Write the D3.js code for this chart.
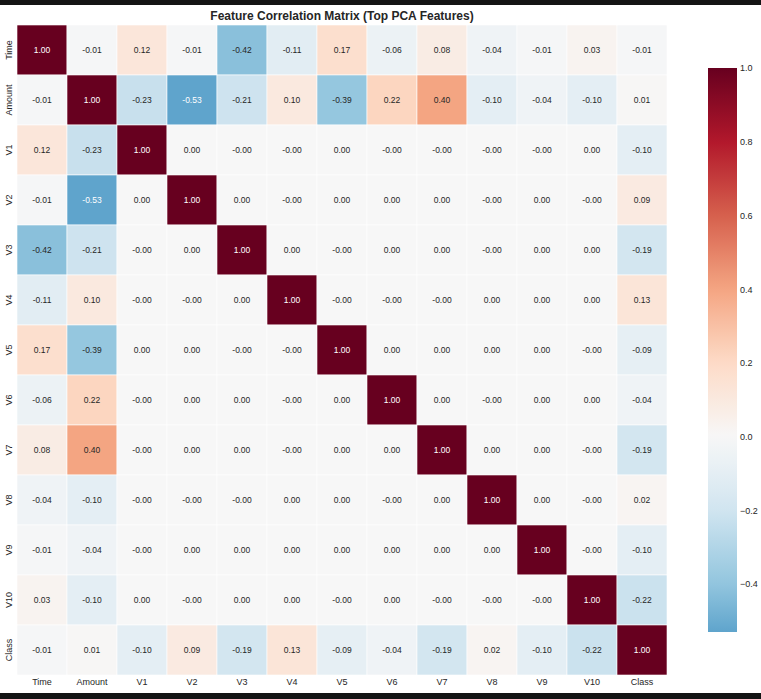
<!DOCTYPE html>
<html>
<head>
<meta charset="utf-8">
<script src="https://cdn.jsdelivr.net/npm/d3@7"></script>
<style>
    html, body { margin: 0; padding: 0; background: #ffffff; }
    svg { display: block; font-family: "Liberation Sans", Arial, sans-serif; }
</style>
</head>
<body>
<svg id="chart" width="761" height="699"></svg>
<script>
var features = ["Time", "Amount", "V1", "V2", "V3", "V4", "V5", "V6", "V7", "V8", "V9", "V10", "Class"];

// tiny signed values are the ones printed as "0.00" / "-0.00"
var row_time   = [1.00, -0.01, 0.12, -0.01, -0.42, -0.11, 0.17, -0.06, 0.08, -0.04, -0.01, 0.03, -0.01];
var row_amount = [-0.01, 1.00, -0.23, -0.53, -0.21, 0.10, -0.39, 0.22, 0.40, -0.10, -0.04, -0.10, 0.01];
var row_v1     = [0.12, -0.23, 1.00, 0.001, -0.001, -0.001, 0.001, -0.001, -0.001, -0.001, -0.001, 0.001, -0.10];
var row_v2     = [-0.01, -0.53, 0.001, 1.00, 0.001, -0.001, 0.001, 0.001, 0.001, -0.001, 0.001, -0.001, 0.09];
var row_v3     = [-0.42, -0.21, -0.001, 0.001, 1.00, 0.001, -0.001, 0.001, 0.001, -0.001, 0.001, 0.001, -0.19];
var row_v4     = [-0.11, 0.10, -0.001, -0.001, 0.001, 1.00, -0.001, -0.001, -0.001, 0.001, 0.001, 0.001, 0.13];
var row_v5     = [0.17, -0.39, 0.001, 0.001, -0.001, -0.001, 1.00, 0.001, 0.001, 0.001, 0.001, -0.001, -0.09];
var row_v6     = [-0.06, 0.22, -0.001, 0.001, 0.001, -0.001, 0.001, 1.00, 0.001, -0.001, 0.001, 0.001, -0.04];
var row_v7     = [0.08, 0.40, -0.001, 0.001, 0.001, -0.001, 0.001, 0.001, 1.00, 0.001, 0.001, -0.001, -0.19];
var row_v8     = [-0.04, -0.10, -0.001, -0.001, -0.001, 0.001, 0.001, -0.001, 0.001, 1.00, 0.001, -0.001, 0.02];
var row_v9     = [-0.01, -0.04, -0.001, 0.001, 0.001, 0.001, 0.001, 0.001, 0.001, 0.001, 1.00, -0.001, -0.10];
var row_v10    = [0.03, -0.10, 0.001, -0.001, 0.001, 0.001, -0.001, 0.001, -0.001, -0.001, -0.001, 1.00, -0.22];
var row_class  = [-0.01, 0.01, -0.10, 0.09, -0.19, 0.13, -0.09, -0.04, -0.19, 0.02, -0.10, -0.22, 1.00];

var colorbar_ticks = [-0.4, -0.2, 0.0, 0.2, 0.4, 0.6, 0.8, 1.0];
var rdbu_colors = ["#67001f", "#b2182b", "#d6604d", "#f4a582", "#fddbc7", "#f7f7f7",
                   "#d1e5f0", "#92c5de", "#4393c3", "#2166ac", "#053061"];

var matrix = [row_time, row_amount, row_v1, row_v2, row_v3, row_v4, row_v5,
              row_v6, row_v7, row_v8, row_v9, row_v10, row_class];

window.onload = function()
{
    var svg = d3.select("#chart");

    // screenshot frame strips
    svg.append("rect").attr("x", 0).attr("y", 0).attr("width", 761).attr("height", 5).attr("fill", "#141414");
    svg.append("rect").attr("x", 0).attr("y", 693).attr("width", 761).attr("height", 6).attr("fill", "#141414");

    var x = d3.scaleBand().domain(features).range([17, 667]);
    var y = d3.scaleBand().domain(features).range([25, 675]);

    // RdBu_r centred on 0, symmetric range like seaborn center=0
    var color = d3.scaleLinear()
        .domain(d3.range(11).map(function(i) { return -1 + i * 0.2; }))
        .range(rdbu_colors.slice().reverse())
        .interpolate(d3.interpolateRgb)
        .clamp(true);

    var cells = [];
    for (var i = 0; i < features.length; i++)
    {
        for (var j = 0; j < features.length; j++)
        {
            cells.push({row: features[i], col: features[j], value: matrix[i][j]});
        }
    }

    svg.append("g").selectAll("rect").data(cells).enter().append("rect").
        attr("x", function(d) { return x(d.col); }).
        attr("y", function(d) { return y(d.row); }).
        attr("width", x.bandwidth()).
        attr("height", y.bandwidth()).
        attr("fill", function(d) { return color(d.value); }).
        attr("stroke", "#ffffff").
        attr("stroke-width", 0.6);

    function luminance(c)
    {
        var rgb = d3.rgb(c);
        var lin = [rgb.r, rgb.g, rgb.b].map(function(v)
        {
            v = v / 255;
            return v <= 0.03928 ? v / 12.92 : Math.pow((v + 0.055) / 1.055, 2.4);
        });
        return 0.2126 * lin[0] + 0.7152 * lin[1] + 0.0722 * lin[2];
    }

    svg.append("g").selectAll("text").data(cells).enter().append("text").
        attr("x", function(d) { return x(d.col) + x.bandwidth() / 2; }).
        attr("y", function(d) { return y(d.row) + y.bandwidth() / 2; }).
        attr("text-anchor", "middle").
        attr("dominant-baseline", "central").
        attr("font-size", "8.5px").
        attr("fill", function(d) { return luminance(color(d.value)) > 0.408 ? "#262626" : "#ffffff"; }).
        text(function(d) { return d.value.toFixed(2); });

    // axis labels
    var x_axis = d3.axisBottom(x).tickSize(0).tickPadding(4);
    var gx = svg.append("g").attr("transform", "translate(0,675)").call(x_axis);
    gx.select(".domain").remove();
    gx.selectAll("text").attr("font-size", "9px").attr("fill", "#262626").attr("font-family", null);

    var gy = svg.append("g");
    gy.selectAll("text").data(features).enter().append("text").
        attr("transform", function(d) { return "translate(12," + (y(d) + y.bandwidth() / 2) + ") rotate(-90)"; }).
        attr("text-anchor", "middle").
        attr("font-size", "9px").
        attr("fill", "#262626").
        text(function(d) { return d; });

    svg.append("text").
        attr("x", (17 + 667) / 2).
        attr("y", 20).
        attr("text-anchor", "middle").
        attr("font-size", "12px").
        attr("font-weight", "bold").
        attr("fill", "#262626").
        text("Feature Correlation Matrix (Top PCA Features)");

    // colorbar
    var all_values = [].concat.apply([], matrix);
    var vmin = d3.min(all_values), vmax = d3.max(all_values);
    var cb = d3.scaleLinear().domain([vmin, vmax]).range([632, 68]);

    var grad = svg.append("defs").append("linearGradient").
        attr("id", "cbgrad").attr("x1", 0).attr("y1", 1).attr("x2", 0).attr("y2", 0);
    var n = 60;
    grad.selectAll("stop").data(d3.range(n + 1)).enter().append("stop").
        attr("offset", function(k) { return (k / n * 100) + "%"; }).
        attr("stop-color", function(k) { return color(vmin + (vmax - vmin) * k / n); });

    svg.append("rect").
        attr("x", 708).attr("y", cb(vmax)).
        attr("width", 29).attr("height", cb(vmin) - cb(vmax)).
        attr("fill", "url(#cbgrad)");

    var cb_axis = d3.axisRight(cb).tickValues(colorbar_ticks).tickSize(0).tickPadding(3).
        tickFormat(function(d) { return d3.format(".1f")(d); });
    var gcb = svg.append("g").attr("transform", "translate(737,0)").call(cb_axis);
    gcb.select(".domain").remove();
    gcb.selectAll("text").attr("font-size", "9px").attr("fill", "#262626").attr("font-family", null);
};
</script>
</body>
</html>
